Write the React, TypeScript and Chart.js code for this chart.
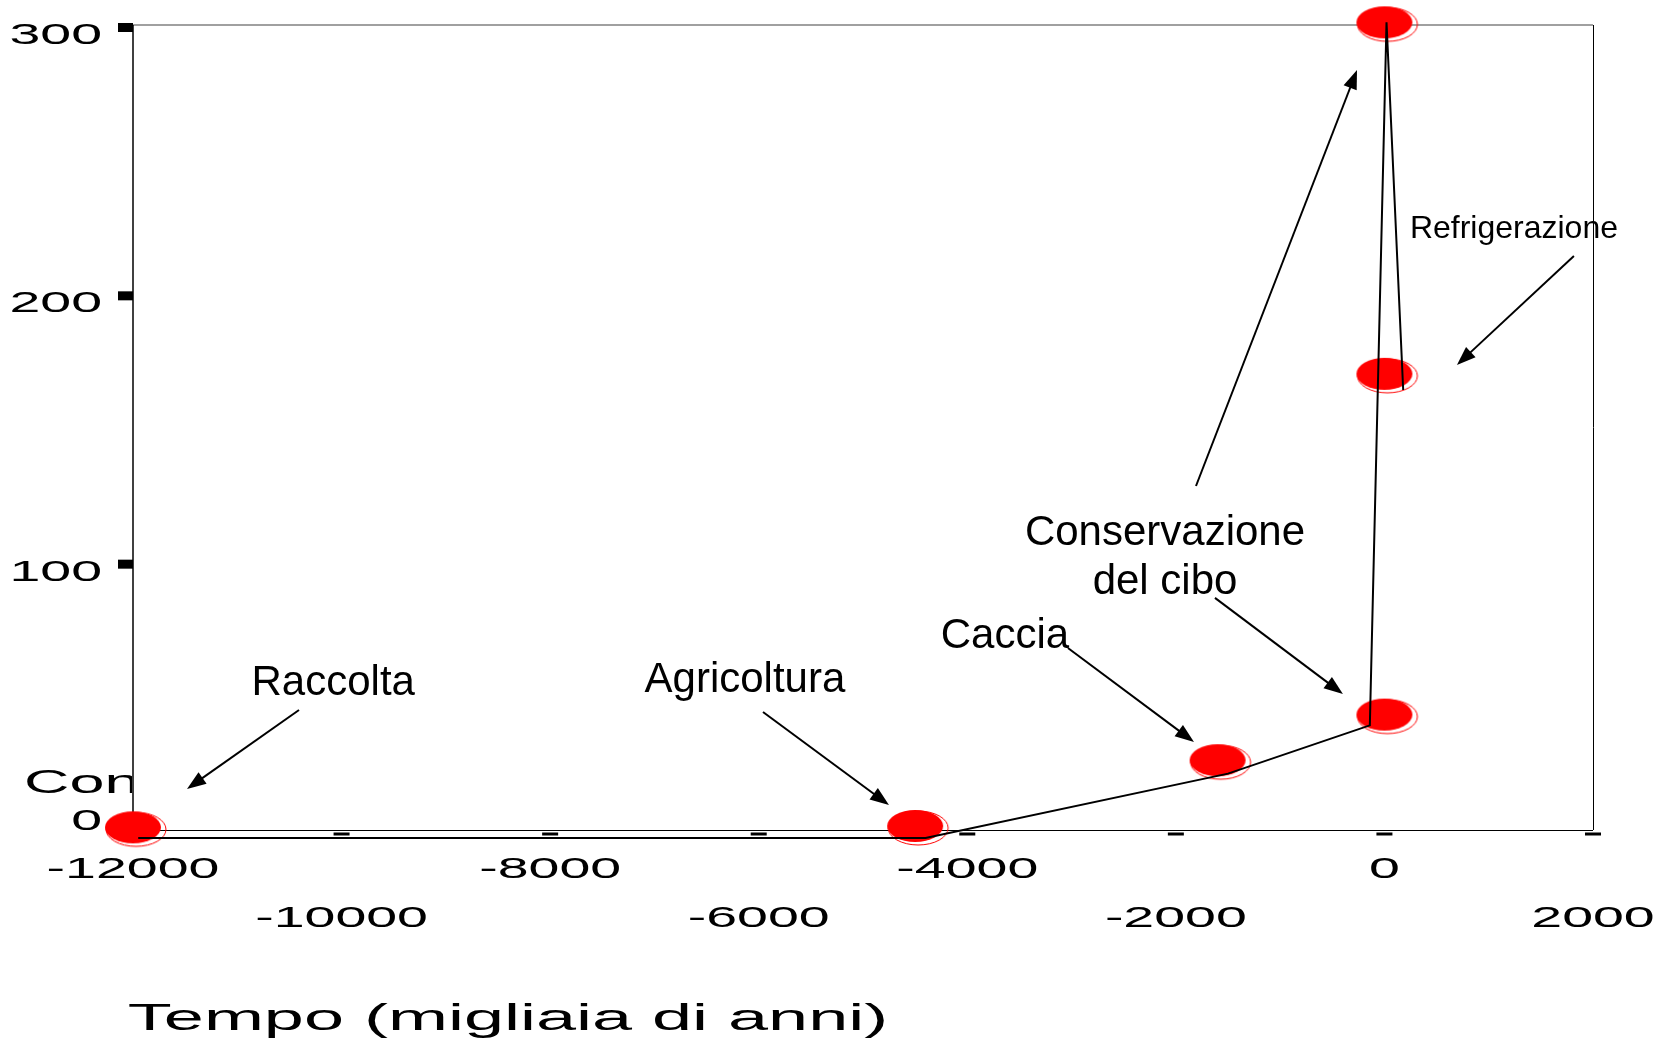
import React, { useEffect, useRef } from "react";
import { Chart, registerables } from "chart.js";

Chart.register(...registerables);

// ---- data ----
const pointX = [-12000, -4500, -1600, 0, 0, 0];
const pointY = [1, 1.5, 26, 43, 170, 301];
const lineX = [-11950, -4400, -1500, -140, 20, 180];
const lineY = [-3, -3, 21, 39, 301, 164];
const xTicks = [-12000, -10000, -8000, -6000, -4000, -2000, 0, 2000];
const yTicks = [0, 100, 200, 300];
const xTitle = "Tempo (migliaia di anni)";
const yTitleVisible = "Con";
const noteTexts = ["Raccolta", "Agricoltura", "Caccia", "Conservazione", "del cibo", "Refrigerazione"];

// annotation placement (data units) kept apart from the data
const noteAnchors = [
  { x: -10080, y: 50.3, size: 42 },
  { x: -6132, y: 51.4, size: 42 },
  { x: -3639, y: 67.8, size: 42 },
  { x: -2104, y: 106.2, size: 42 },
  { x: -2104, y: 88.0, size: 42 },
  { x: 1242, y: 220.6, size: 32 },
];
const arrows = [
  { fx: -10408, fy: 44.7, tx: -11482, ty: 15.3 },
  { fx: -5959, fy: 44, tx: -4751, ty: 9.3 },
  { fx: -3035, fy: 67.8, tx: -1826, ty: 32.8 },
  { fx: -1625, fy: 86.5, tx: -398, ty: 50.7 },
  { fx: -1807, fy: 128.2, tx: -263, ty: 283.2 },
  { fx: 1817, fy: 213.9, tx: 695, ty: 173.3 },
];

const FONT = '"Liberation Sans", Arial, sans-serif';
const CANVAS_W = 1674;
const CANVAS_H = 1041;

function stretched(ctx: CanvasRenderingContext2D, text: string, x: number, y: number, size: number, sx: number, align: CanvasTextAlign) {
  ctx.save();
  ctx.font = `${size}px ${FONT}`;
  ctx.textAlign = align;
  ctx.textBaseline = "alphabetic";
  ctx.fillStyle = "#000";
  ctx.translate(x, y);
  ctx.scale(sx, 1);
  ctx.fillText(text, 0, 0);
  ctx.restore();
}

function makeBlob(): HTMLCanvasElement {
  const c = document.createElement("canvas");
  c.width = 76;
  c.height = 48;
  const g = c.getContext("2d")!;
  g.strokeStyle = "#ff0000";
  g.lineWidth = 1;
  g.beginPath();
  g.ellipse(41, 26, 30, 17, 0, 0, Math.PI * 2);
  g.stroke();
  g.fillStyle = "#ff0000";
  g.beginPath();
  g.ellipse(38, 24, 28, 16, 0, 0, Math.PI * 2);
  g.fill();
  return c;
}

const decorPlugin = {
  id: "decor",
  beforeDatasetsDraw(chart: any) {
    const { ctx, chartArea } = chart;
    const { left, right, top, bottom } = chartArea;
    const x = chart.scales.x;
    const y = chart.scales.y;
    ctx.save();
    ctx.strokeStyle = "#808080";
    ctx.lineWidth = 1.5;
    ctx.beginPath();
    ctx.moveTo(left, top);
    ctx.lineTo(right, top);
    ctx.stroke();
    ctx.strokeStyle = "#000";
    ctx.lineWidth = 1;
    ctx.beginPath();
    ctx.moveTo(right + 0.5, top);
    ctx.lineTo(right + 0.5, bottom);
    ctx.stroke();
    ctx.beginPath();
    ctx.moveTo(left, bottom + 0.5);
    ctx.lineTo(right, bottom + 0.5);
    ctx.stroke();
    ctx.lineWidth = 1.5;
    ctx.beginPath();
    ctx.moveTo(left, top);
    ctx.lineTo(left, bottom + 1);
    ctx.stroke();
    ctx.fillStyle = "#000";
    for (const t of y.ticks) {
      const py = y.getPixelForValue(t.value);
      ctx.fillRect(left - 15, py - 2, 15, 9);
    }
    for (const t of x.ticks) {
      const px = x.getPixelForValue(t.value);
      ctx.fillRect(px - 8, bottom + 2.5, 16, 3);
    }
    ctx.restore();
  },
  afterDraw(chart: any) {
    const { ctx, chartArea } = chart;
    const { left, bottom } = chartArea;
    const x = chart.scales.x;
    const y = chart.scales.y;
    // y tick labels
    y.ticks.forEach((t: any) => {
      const py = y.getPixelForValue(t.value);
      const base = t.value === 0 ? py : py + 19;
      stretched(ctx, String(t.value), left - 31, base, 30, 1.85, "right");
    });
    // x tick labels, staggered
    x.ticks.forEach((t: any, i: number) => {
      const px = x.getPixelForValue(t.value);
      const base = i % 2 === 0 ? bottom + 48 : bottom + 97;
      stretched(ctx, String(t.value), px, base, 30, 1.85, "center");
    });
    // x title
    stretched(ctx, xTitle, left + 375, bottom + 200, 37.5, 1.92, "center");
    // clipped y title
    ctx.save();
    ctx.beginPath();
    ctx.rect(0, 0, left - 1, chart.height);
    ctx.clip();
    stretched(ctx, yTitleVisible, left - 109, bottom - 37, 34, 1.85, "left");
    ctx.restore();
    // annotations
    ctx.save();
    ctx.fillStyle = "#000";
    ctx.textAlign = "center";
    ctx.textBaseline = "alphabetic";
    noteTexts.forEach((txt, i) => {
      const a = noteAnchors[i];
      ctx.font = `${a.size}px ${FONT}`;
      ctx.fillText(txt, x.getPixelForValue(a.x), y.getPixelForValue(a.y));
    });
    ctx.strokeStyle = "#000";
    ctx.lineWidth = 2;
    for (const a of arrows) {
      const x1 = x.getPixelForValue(a.fx);
      const y1 = y.getPixelForValue(a.fy);
      const x2 = x.getPixelForValue(a.tx);
      const y2 = y.getPixelForValue(a.ty);
      const dx = x2 - x1;
      const dy = y2 - y1;
      const len = Math.hypot(dx, dy);
      const ux = dx / len;
      const uy = dy / len;
      const hl = 19;
      const hw = 7;
      ctx.beginPath();
      ctx.moveTo(x1, y1);
      ctx.lineTo(x2 - ux * hl * 0.8, y2 - uy * hl * 0.8);
      ctx.stroke();
      ctx.beginPath();
      ctx.moveTo(x2, y2);
      ctx.lineTo(x2 - ux * hl - uy * hw, y2 - uy * hl + ux * hw);
      ctx.lineTo(x2 - ux * hl + uy * hw, y2 - uy * hl - ux * hw);
      ctx.closePath();
      ctx.fill();
    }
    ctx.restore();
  },
};

export default function App() {
  const ref = useRef<HTMLCanvasElement | null>(null);
  useEffect(() => {
    document.body.style.margin = "0";
    document.body.style.overflow = "hidden";
    document.documentElement.style.overflow = "hidden";
    if (!ref.current) return;
    const blob = makeBlob();
    const chart = new Chart(ref.current, {
      type: "scatter",
      data: {
        datasets: [
          {
            label: "trend",
            data: lineX.map((v, i) => ({ x: v, y: lineY[i] })),
            showLine: true,
            borderColor: "#000",
            borderWidth: 2,
            pointRadius: 0,
            fill: false,
            clip: false as any,
          },
          {
            label: "punti",
            data: pointX.map((v, i) => ({ x: v, y: pointY[i] })),
            showLine: false,
            pointStyle: blob as any,
            pointRadius: 28,
            clip: false as any,
          },
        ],
      },
      options: {
        animation: false,
        responsive: false,
        devicePixelRatio: 1,
        layout: { autoPadding: false, padding: { left: 0, top: 25, right: 81, bottom: 0 } },
        plugins: { legend: { display: false }, tooltip: { enabled: false } },
        events: [],
        scales: {
          x: {
            type: "linear",
            min: -12000,
            max: 2000,
            afterBuildTicks: (s: any) => {
              s.ticks = xTicks.map((v) => ({ value: v }));
            },
            afterFit: (s: any) => {
              s.height = CANVAS_H - 830;
              s.paddingLeft = 0;
              s.paddingRight = 0;
              s.paddingTop = 0;
              s.paddingBottom = 0;
            },
            ticks: { display: false },
            grid: { display: false },
            border: { display: false },
          },
          y: {
            type: "linear",
            min: 0,
            max: 300,
            afterBuildTicks: (s: any) => {
              s.ticks = yTicks.map((v) => ({ value: v }));
            },
            afterFit: (s: any) => {
              s.width = 133;
              s.paddingLeft = 0;
              s.paddingRight = 0;
              s.paddingTop = 0;
              s.paddingBottom = 0;
            },
            ticks: { display: false },
            grid: { display: false },
            border: { display: false },
          },
        },
      },
      plugins: [decorPlugin],
    });
    return () => chart.destroy();
  }, []);
  return (
    <div style={{ width: CANVAS_W, height: CANVAS_H }}>
      <canvas ref={ref} width={CANVAS_W} height={CANVAS_H} style={{ display: "block" }} />
    </div>
  );
}
